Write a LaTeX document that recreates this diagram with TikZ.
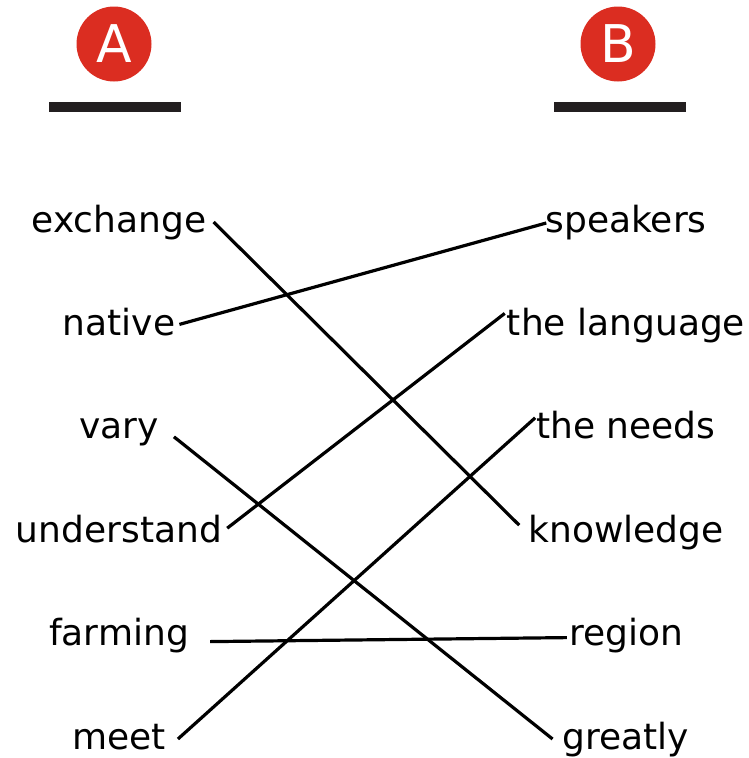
\documentclass[tikz,border=0pt]{standalone}
\usepackage{fontspec}
\setmainfont{DejaVu Sans}
\usetikzlibrary{positioning}
\definecolor{badgered}{RGB}{219,45,33}
\definecolor{barblack}{RGB}{35,31,32}
\tikzstyle{badge} = [circle, minimum size=75pt, inner sep=0pt, fill=badgered, text=white, font=\fontsize{52}{52}\selectfont]
\tikzstyle{underbar} = [rectangle, minimum width=132pt, minimum height=10pt, inner sep=0pt, fill=barblack]
\tikzstyle{word} = [inner sep=0pt, text height=30pt, text depth=10pt, font=\fontsize{36}{40}\selectfont]
\tikzstyle{match} = [line width=3.2pt]

\begin{document}
\begin{tikzpicture}[x=1pt, y=-1pt, node distance=103.4pt]
\useasboundingbox (0,0) rectangle (749,758);
% column headings
\node (ca) [badge] at (114,44) {A};
\node (cb) [badge] at (618,44) {B};
\node (bara) [underbar] at (115,107) {};
\node (barb) [underbar] at (620,107) {};
% column A
\node (ex) [word] at (119,222) {exchange};
\node (na) [word, below of=ex] {native};
\node (va) [word, below of=na] {vary};
\node (un) [word, below of=va] {understand};
\node (fa) [word, below of=un] {farming};
\node (me) [word, below of=fa] {meet};
% column B
\node (sp) [word] at (626,222) {speakers};
\node (la) [word, below of=sp] {the language};
\node (ne) [word, below of=la] {the needs};
\node (kn) [word, below of=ne] {knowledge};
\node (re) [word, below of=kn] {region};
\node (gr) [word, below of=re] {greatly};
% matches
\draw [match] ([shift={(7,0)}]ex.east) -- ([shift={(-9,-7)}]kn.west);
\draw [match] ([shift={(4,-1)}]na.east) -- ([shift={(1,1)}]sp.west);
\draw [match] ([shift={(15,8)}]va.east) -- ([shift={(-10,0)}]gr.west);
\draw [match] ([shift={(5,-4)}]un.east) -- ([shift={(-2,-12)}]la.west);
\draw [match] ([shift={(21,6)}]fa.east) -- ([shift={(-2,2)}]re.west);
\draw [match] ([shift={(12,0)}]me.east) -- ([shift={(-1,-11)}]ne.west);
\end{tikzpicture}
\end{document}
